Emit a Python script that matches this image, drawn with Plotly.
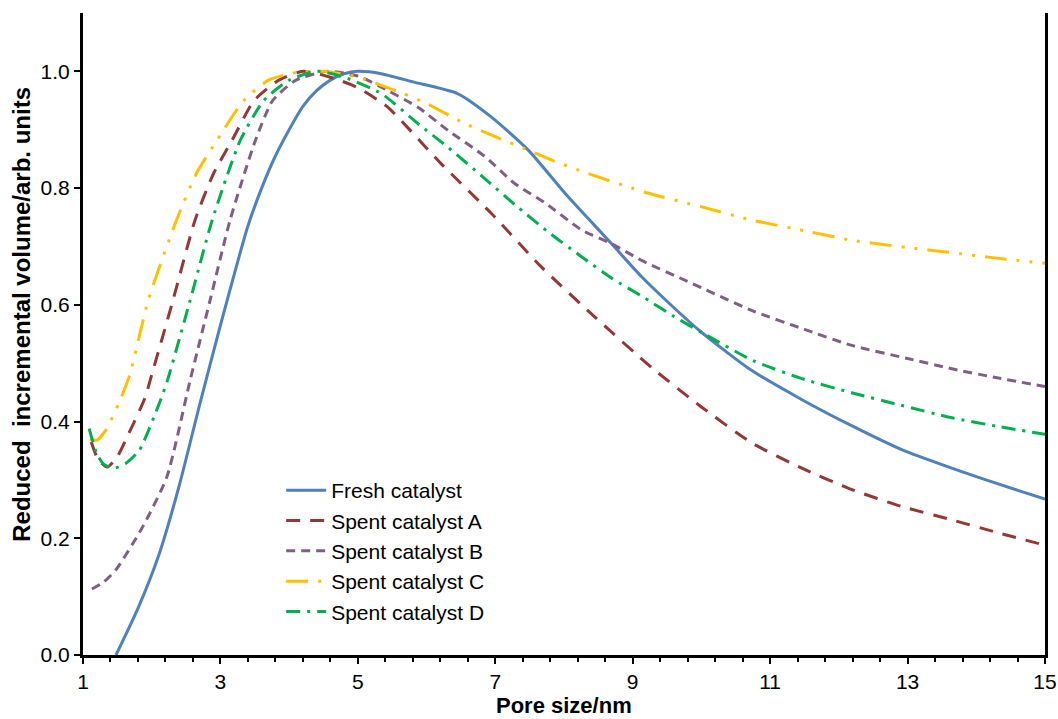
import plotly.graph_objects as go

# ---- data ----
fresh_x = [1.48, 1.8, 2.1, 2.4, 2.7, 3.0, 3.4, 3.6, 3.8, 4.0, 4.2, 4.4, 4.6, 4.8, 5.0, 5.34, 5.8, 6.45, 6.94, 7.48, 8.06, 8.69, 9.13, 9.6, 10.0, 10.7, 11.47, 12.2, 12.93, 13.6, 14.14, 15.0]
fresh_y = [0.0, 0.08, 0.17, 0.29, 0.43, 0.565, 0.735, 0.80, 0.855, 0.90, 0.94, 0.967, 0.985, 0.996, 1.0, 0.996, 0.982, 0.962, 0.922, 0.865, 0.785, 0.705, 0.648, 0.595, 0.553, 0.49, 0.437, 0.392, 0.351, 0.322, 0.30, 0.267]

a_x = [1.12, 1.22, 1.35, 1.5, 1.64, 1.9, 2.0, 2.31, 2.63, 2.9, 3.17, 3.49, 3.85, 4.2, 4.6, 5.0, 5.43, 6.21, 6.94, 7.67, 8.45, 9.28, 10.0, 10.74, 11.5, 12.2, 12.9, 13.66, 14.3, 15.0]
a_y = [0.365, 0.335, 0.322, 0.34, 0.373, 0.44, 0.48, 0.608, 0.745, 0.825, 0.882, 0.95, 0.985, 1.0, 0.99, 0.972, 0.939, 0.842, 0.757, 0.665, 0.579, 0.492, 0.425, 0.363, 0.318, 0.283, 0.255, 0.231, 0.21, 0.188]

b_x = [1.13, 1.3, 1.48, 1.87, 2.22, 2.56, 2.85, 3.14, 3.51, 3.76, 4.1, 4.55, 5.0, 5.34, 5.88, 6.31, 6.84, 7.28, 7.72, 8.26, 8.69, 9.13, 9.8, 10.74, 11.5, 12.2, 13.0, 13.66, 14.3, 15.0]
b_y = [0.113, 0.125, 0.146, 0.22, 0.305, 0.471, 0.608, 0.745, 0.882, 0.95, 0.985, 1.0, 0.992, 0.973, 0.938, 0.899, 0.855, 0.808, 0.775, 0.728, 0.705, 0.676, 0.64, 0.59, 0.558, 0.53, 0.508, 0.49, 0.475, 0.46]

c_x = [1.1, 1.2, 1.33, 1.52, 1.68, 1.95, 2.36, 2.65, 2.95, 3.34, 3.7, 4.1, 4.5, 5.0, 5.34, 5.66, 6.0, 6.55, 7.0, 7.48, 7.82, 8.35, 9.2, 10.0, 10.74, 11.5, 12.17, 13.0, 13.6, 14.3, 15.0]
c_y = [0.37, 0.368, 0.385, 0.431, 0.48, 0.608, 0.745, 0.825, 0.882, 0.95, 0.985, 0.998, 1.0, 0.99, 0.976, 0.962, 0.945, 0.911, 0.888, 0.865, 0.848, 0.825, 0.792, 0.768, 0.745, 0.727, 0.711, 0.698, 0.69, 0.68, 0.671]

d_x = [1.09, 1.2, 1.3, 1.45, 1.62, 1.82, 2.11, 2.23, 2.56, 2.88, 3.29, 3.63, 4.0, 4.4, 4.8, 5.34, 5.9, 6.31, 6.86, 7.28, 7.8, 8.26, 8.7, 9.13, 9.6, 10.0, 10.74, 11.5, 12.2, 12.9, 13.66, 14.3, 15.0]
d_y = [0.388, 0.345, 0.327, 0.32, 0.328, 0.351, 0.431, 0.471, 0.608, 0.745, 0.882, 0.95, 0.985, 1.0, 0.99, 0.962, 0.908, 0.870, 0.815, 0.772, 0.722, 0.682, 0.645, 0.615, 0.58, 0.553, 0.505, 0.472, 0.449, 0.428, 0.406, 0.392, 0.378]

names = ["Fresh catalyst", "Spent catalyst A", "Spent catalyst B", "Spent catalyst C", "Spent catalyst D"]
colors = ["#4F81BD", "#953735", "#7F6084", "#FFC000", "#00B050"]
dashes = ["solid", "14px,10px", "9px,6px", "22px,10px,3px,10px,3px,10px", "14px,7px,3px,7px"]
xs = [fresh_x, a_x, b_x, c_x, d_x]
ys = [fresh_y, a_y, b_y, c_y, d_y]

x_title = "Pore size/nm"
y_title = "Reduced\u00a0 incremental volume/arb. units"

FONT = "Liberation Sans, Arial, sans-serif"
FS = 21

fig = go.Figure()
for i in range(5):
    fig.add_trace(go.Scatter(
        x=xs[i], y=ys[i], mode="lines", name=names[i],
        line=dict(color=colors[i], width=3, dash=dashes[i], shape="spline", smoothing=0.6),
        legendgroup=f"g{i}",
    ))

fig.update_layout(
    width=1058, height=719,
    margin=dict(l=83, r=13, t=13, b=64),
    paper_bgcolor="white", plot_bgcolor="white",
    font=dict(family=FONT, size=FS, color="black"),
    showlegend=True,
    legend=dict(x=0.206, y=0.288, xanchor="left", yanchor="top",
                bgcolor="rgba(0,0,0,0)", font=dict(size=FS, family=FONT),
                tracegroupgap=0, itemwidth=40),
    xaxis=dict(
        range=[1, 15], tick0=1, dtick=2, showgrid=False, zeroline=False,
        showline=True, linecolor="black", linewidth=3, automargin=False,
        ticks="outside", ticklen=6, tickwidth=2, tickcolor="black",
        minor=dict(dtick=0.4, tick0=1, ticks="outside", ticklen=4, tickwidth=2, tickcolor="black", showgrid=False),
        tickfont=dict(size=FS, family=FONT), ticklabeloverflow="allow",
    ),
    yaxis=dict(
        range=[0, 1.1], tickvals=[0, 0.2, 0.4, 0.6, 0.8, 1.0], tickformat=".1f",
        showgrid=False, zeroline=False, automargin=False,
        showline=True, linecolor="black", linewidth=3, mirror=True,
        ticks="outside", ticklen=6, tickwidth=2, tickcolor="black",
        tickfont=dict(size=FS, family=FONT),
    ),
    annotations=[
        dict(text=f"<b>{x_title}</b>", xref="paper", yref="paper", x=0.5, y=-0.0794,
             xanchor="center", yanchor="middle", showarrow=False, font=dict(size=22, family=FONT)),
        dict(text=f"<b>{y_title}</b>", xref="paper", yref="paper", x=-0.0634, y=0.53,
             xanchor="center", yanchor="middle", textangle=-90, showarrow=False, font=dict(size=24, family=FONT)),
    ],
)

fig.write_html("out.html", config={"displayModeBar": False},
               post_script="document.body.style.margin='0px';document.body.style.overflow='hidden';")
